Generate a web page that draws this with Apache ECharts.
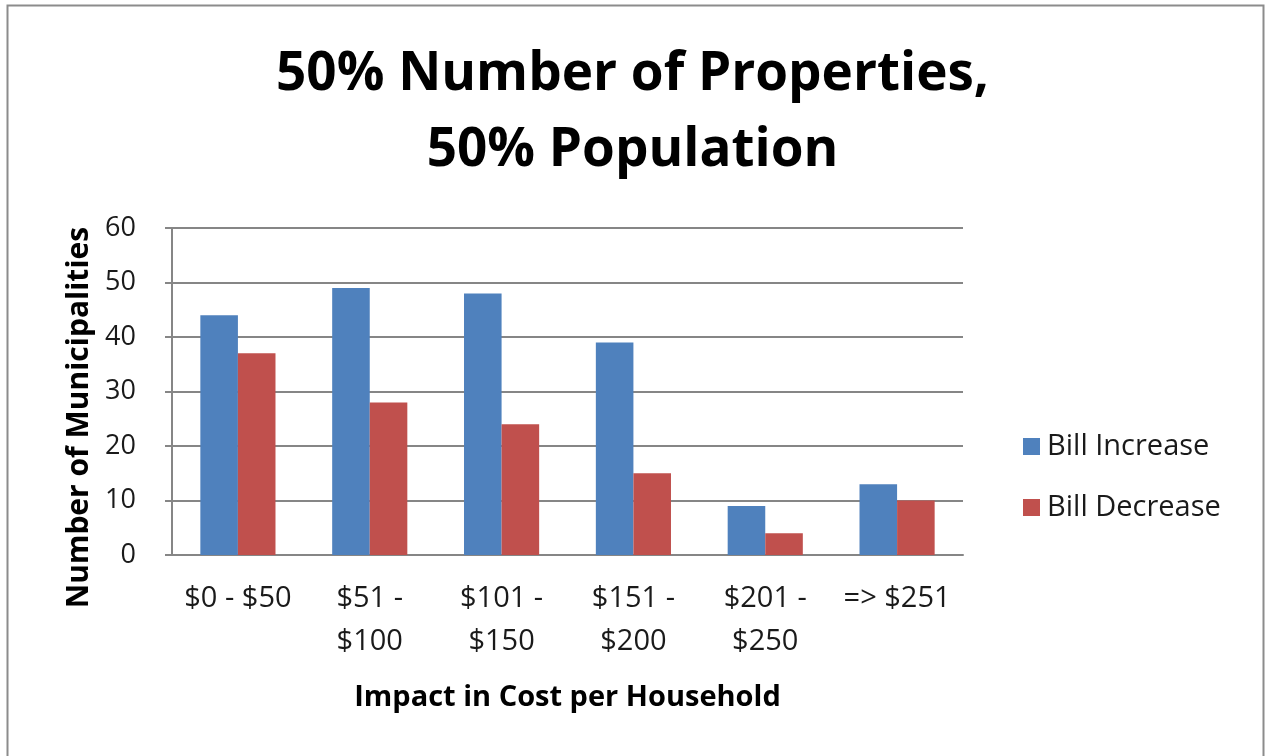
<!DOCTYPE html>
<html>
<head>
<meta charset="utf-8">
<title>50% Number of Properties, 50% Population</title>
<script src="https://cdn.jsdelivr.net/npm/echarts@6/dist/echarts.min.js"></script>
<style>
  html, body { margin: 0; padding: 0; background: #ffffff; }
  #chart { width: 1265px; height: 756px; }
</style>
</head>
<body>
<div id="chart"></div>
<script>
// Cost-impact bands per household
const categories = ['$0 - $50', '$51 -\n$100', '$101 -\n$150', '$151 -\n$200', '$201 -\n$250', '=> $251'];
// Number of municipalities in each band
const billIncrease = [44, 49, 48, 39, 9, 13];
const billDecrease = [37, 28, 24, 15, 4, 10];
const seriesNames = ['Bill Increase', 'Bill Decrease'];
const yTicks = { min: 0, max: 60, interval: 10 };

const FONT = '"Open Sans", Lato, sans-serif';
const chart = echarts.init(document.getElementById('chart'), null, { renderer: 'canvas' });

chart.setOption({
  backgroundColor: '#ffffff',
  animation: false,
  title: {
    text: '50% Number of Properties,\n50% Population',
    left: 'center',
    top: 32,
    textStyle: {
      fontFamily: FONT,
      fontWeight: 'bold',
      fontSize: 53,
      lineHeight: 76,
      color: '#000000'
    }
  },
  graphic: [{
    type: 'rect',
    shape: { x: 7.5, y: 5.5, width: 1256, height: 760 },
    style: { fill: 'none', stroke: '#8c8c8c', lineWidth: 2 },
    silent: true
  }],
  legend: {
    orient: 'vertical',
    left: 1018,
    top: 427,
    itemWidth: 17,
    itemHeight: 17,
    itemGap: 32,
    icon: 'rect',
    textStyle: { fontFamily: FONT, fontSize: 29, color: '#1a1a1a', padding: [0, 0, 0, 2] },
    data: seriesNames
  },
  grid: { left: 172, right: 302, top: 228, bottom: 201, containLabel: false },
  xAxis: {
    type: 'category',
    data: categories,
    axisLine: { show: true, lineStyle: { color: '#868686', width: 2 } },
    axisTick: { show: false },
    axisLabel: {
      interval: 0,
      margin: 22,
      fontFamily: FONT,
      fontSize: 29,
      lineHeight: 43,
      color: '#1a1a1a',
      align: 'center'
    },
    name: 'Impact in Cost per Household',
    nameLocation: 'middle',
    nameGap: 128,
    nameTextStyle: { fontFamily: FONT, fontWeight: 'bold', fontSize: 29, color: '#000000' }
  },
  yAxis: {
    type: 'value',
    min: yTicks.min,
    max: yTicks.max,
    interval: yTicks.interval,
    axisLine: { show: true, lineStyle: { color: '#868686', width: 2 } },
    axisTick: { show: true, length: 7, inside: false, lineStyle: { color: '#868686', width: 2 } },
    splitLine: { show: true, lineStyle: { color: '#868686', width: 2 } },
    axisLabel: { margin: 36, fontFamily: FONT, fontSize: 27, color: '#1a1a1a' },
    name: 'Number of Municipalities',
    nameLocation: 'middle',
    nameGap: 77,
    nameTextStyle: {
      fontFamily: FONT, fontWeight: 'bold', fontSize: 30, color: '#000000',
      padding: [0, 52, 0, 0]
    }
  },
  series: [
    {
      name: seriesNames[0],
      type: 'bar',
      data: billIncrease,
      barGap: '0%',
      barCategoryGap: '43%',
      itemStyle: { color: '#4f81bd' }
    },
    {
      name: seriesNames[1],
      type: 'bar',
      data: billDecrease,
      barGap: '0%',
      barCategoryGap: '43%',
      itemStyle: { color: '#c0504d' }
    }
  ]
});
</script>
</body>
</html>
